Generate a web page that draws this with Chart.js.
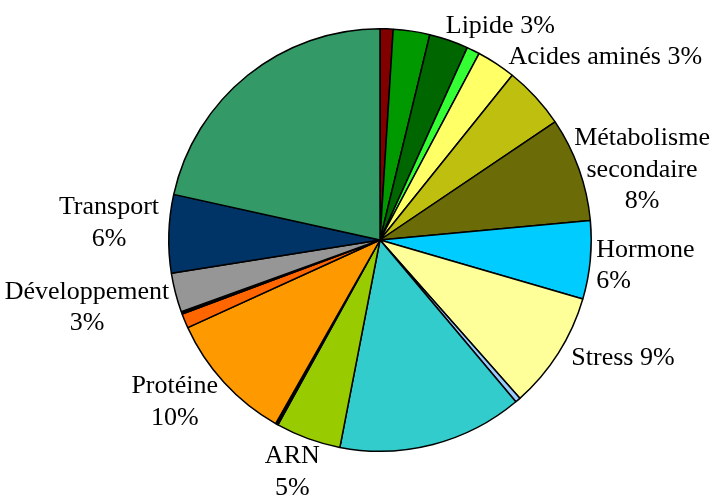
<!DOCTYPE html>
<html>
<head>
<meta charset="utf-8">
<script src="https://cdn.jsdelivr.net/npm/chart.js@4"></script>
<style>
  html, body { margin: 0; padding: 0; background: #fff; }
  #wrap { width: 716px; height: 496px; position: relative; }
</style>
</head>
<body>
<div id="wrap"><canvas id="pieChart"></canvas></div>
<script>
// catégories fonctionnelles, dans le sens horaire depuis midi
const categories = [
  'Autre 1', 'Autre 2', 'Lipide', 'Autre 3', 'Acides aminés', 'Autre 4',
  'Métabolisme secondaire', 'Hormone', 'Stress', 'Autre 5', 'Autre 6', 'ARN',
  'Autre 7', 'Protéine', 'Autre 8', 'Autre 9', 'Développement', 'Transport', 'Autre 10'
];
const percentages = [1, 2.8, 3, 1, 3, 4.8, 8, 6, 9, 0.4, 14.2, 5, 0.2, 10, 1.1, 0.2, 3, 6, 21.6];
const sliceColors = [
  '#800000', '#009900', '#006600', '#33ff33', '#ffff66', '#bfbf10',
  '#6b6b08', '#00ccff', '#ffff99', '#99ccff', '#33cccc', '#99cc00',
  '#000000', '#ff9900', '#ff6600', '#000000', '#969696', '#003366', '#339966'
];

// étiquettes : lignes, alignement, décalage (px) depuis le centre
const labelDefs = [
  { lines: ['Lipide 3%'], align: 'left', dx: 66, dy: -208 },
  { lines: ['Acides aminés 3%'], align: 'left', dx: 129, dy: -177 },
  { lines: ['Métabolisme', 'secondaire', '8%'], align: 'center', dx: 263, dy: -95 },
  { lines: ['Hormone', '6%'], align: 'left', dx: 217, dy: 17 },
  { lines: ['Stress 9%'], align: 'left', dx: 192, dy: 125 },
  { lines: ['ARN', '5%'], align: 'center', dx: -88, dy: 224 },
  { lines: ['Protéine', '10%'], align: 'center', dx: -206, dy: 154 },
  { lines: ['Développement', '3%'], align: 'center', dx: -294, dy: 59 },
  { lines: ['Transport', '6%'], align: 'center', dx: -272, dy: -26 }
];

const sliceLabels = {
  id: 'sliceLabels',
  afterDraw: (chart) => {
    const arc = chart.getDatasetMeta(0).data[0];
    if (!arc) return;
    const scale = arc.outerRadius / 212;
    const ctx = chart.ctx;
    ctx.save();
    ctx.fillStyle = '#000';
    ctx.font = '26px "Liberation Serif", "Times New Roman", serif';
    ctx.textBaseline = 'alphabetic';
    labelDefs.forEach(l => {
      ctx.textAlign = l.align;
      const x = arc.x + l.dx * scale;
      l.lines.forEach((line, i) => {
        ctx.fillText(line, x, arc.y + l.dy * scale + i * 31.5);
      });
    });
    ctx.restore();
  }
};

new Chart(document.getElementById('pieChart'), {
  type: 'pie',
  data: {
    labels: categories,
    datasets: [{
      data: percentages,
      backgroundColor: sliceColors,
      borderColor: '#000',
      borderWidth: 1.5
    }]
  },
  options: {
    responsive: true,
    maintainAspectRatio: false,
    animation: false,
    layout: { padding: { top: 28, bottom: 44, left: 168, right: 124 } },
    plugins: {
      legend: { display: false },
      tooltip: { enabled: false }
    }
  },
  plugins: [sliceLabels]
});
</script>
</body>
</html>
